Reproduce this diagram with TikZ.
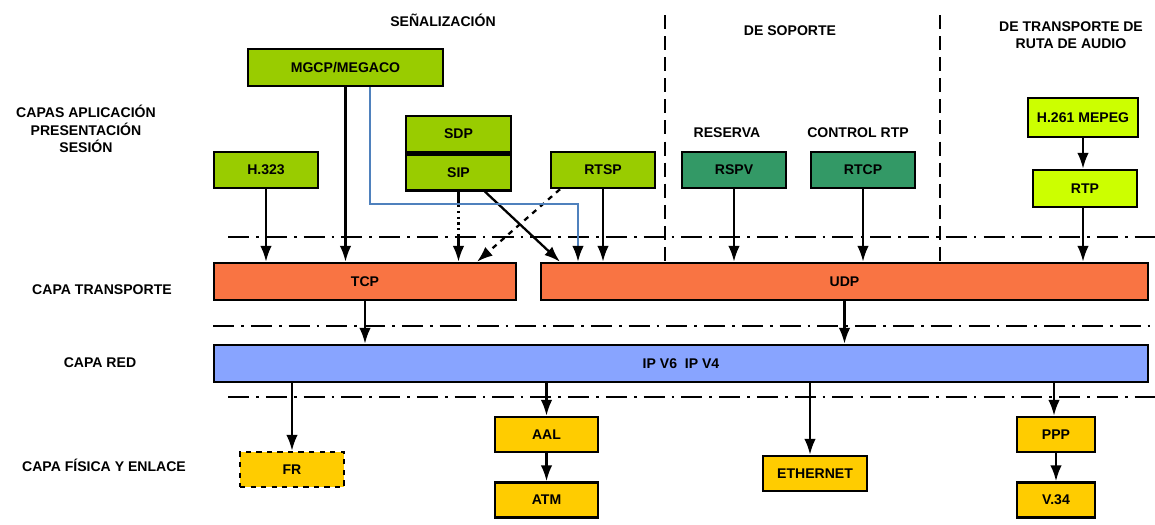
\documentclass[tikz,border=0pt]{standalone}
\usepackage{fontspec}
\setmainfont{Liberation Sans}
\usepackage{tikz}
\usetikzlibrary{arrows.meta}
\usetikzlibrary{positioning}

\definecolor{verdesen}{HTML}{99CC00}
\definecolor{verdesop}{HTML}{339966}
\definecolor{verdeaud}{HTML}{CCFF00}
\definecolor{naranja}{HTML}{F97443}
\definecolor{azulred}{HTML}{88A4FF}
\definecolor{amarillo}{HTML}{FFCC00}
\definecolor{azullinea}{HTML}{4F81BD}

\begin{document}
\begin{tikzpicture}[x=0.02cm, y=-0.02cm, >={Latex[length=9pt,width=6.5pt]},
    font=\fontsize{8}{10}\selectfont\bfseries,
    box/.style={draw, line width=1.4pt, inner sep=0pt, minimum width=2.08cm, minimum height=0.72cm},
    sen/.style={box, fill=verdesen},
    sop/.style={box, fill=verdesop},
    aud/.style={box, fill=verdeaud},
    trans/.style={box, fill=naranja, minimum height=0.74cm},
    ipbox/.style={box, fill=azulred, minimum height=0.74cm},
    fis/.style={box, fill=amarillo, minimum height=0.7cm},
    flecha/.style={->, line width=1.3pt},
    corte/.style={line width=1.4pt, dash pattern=on 12pt off 4pt on 1.5pt off 4pt},
    zona/.style={line width=1.1pt, dash pattern=on 8pt off 4pt},
    capa/.style={align=center}]
  \useasboundingbox (0,0) rectangle (1155,524);

  % titulos de columnas y capas
  \node (t_sen) at (443,20)  {SEÑALIZACIÓN};
  \node (t_sop) at (790,31)  {DE SOPORTE};
  \node[capa] (t_aud) at (1071,35) {DE TRANSPORTE DE\\RUTA DE AUDIO};
  \node[capa] (c_app) at (86,129) {CAPAS APLICACIÓN\\PRESENTACIÓN\\SESIÓN};
  \node (c_tra) at (102,290) {CAPA TRANSPORTE};
  \node (c_red) at (100,363) {CAPA RED};
  \node (c_fis) at (104,465) {CAPA FÍSICA Y ENLACE};
  \node (l_res) at (727,133) {RESERVA};
  \node (l_ctl) at (858,133) {CONTROL RTP};

  % separadores
  \draw[zona] (665,15) -- (665,265);
  \draw[zona] (940,15) -- (940,262);
  \draw[corte] (228,237) -- (1155,237);
  \draw[corte] (213,326) -- (1155,326);
  \draw[corte] (228,397) -- (1155,397);

  % aplicacion
  \node[sen, minimum width=3.9cm, minimum height=0.74cm] (mgcp) at (345.5,67.5) {MGCP/MEGACO};
  \node[sen, minimum width=2.1cm] (sdp) at (458.5,134) {SDP};
  \node[sen, minimum width=2.1cm] (sip) [below=0pt of sdp] {SIP};
  \node[sen] (h323) at (266,170) {H.323};
  \node[sen] (rtsp) at (603,170) {RTSP};
  \node[sop] (rspv) at (734,170) {RSPV};
  \node[sop] (rtcp) at (863,170) {RTCP};
  \node[aud, minimum width=2.2cm, minimum height=0.78cm] (h261) at (1083,117.5) {H.261 MEPEG};
  \node[aud, minimum height=0.74cm] (rtp) at (1085,188.5) {RTP};

  % transporte, red, fisica
  \node[trans, minimum width=6.04cm] (tcp) at (365,281.5) {TCP};
  \node[trans, minimum width=12.14cm] (udp) at (844.5,281.5) {UDP};
  \node[ipbox, minimum width=18.68cm] (ip) at (681,363.5) {IP V6 \ IP V4};
  \node[fis, dashed] (fr) at (292,469.5) {FR};
  \node[fis, minimum width=2.06cm] (aal) at (546.5,434.5) {AAL};
  \node[fis, minimum width=2.06cm] (atm) [below=0.56cm of aal] {ATM};
  \node[fis] (eth) at (815,473.5) {ETHERNET};
  \node[fis, minimum width=1.56cm] (ppp) at (1056,434.5) {PPP};
  \node[fis, minimum width=1.56cm] (v34) [below=0.56cm of ppp] {V.34};

  % flechas hacia transporte
  \draw[flecha] (h323.south) -- (h323.south |- tcp.north);
  \draw[flecha] (mgcp.south) -- (mgcp.south |- tcp.north);
  \coordinate (sip_a) at (458.5,205);
  \coordinate (sip_b) at (458.5,238);
  \draw[line width=1.3pt] (sip.south) -- (sip_a);
  \draw[line width=1.3pt, dotted] (sip_a) -- (sip_b);
  \draw[flecha] (sip_b) -- (sip_b |- tcp.north);
  \draw[flecha, dashed] (rtsp.south -| 560,0) -- (tcp.north -| 477,0);
  \draw[flecha] (sip.south -| 485,0) -- (udp.north -| 560,0);
  \draw[azullinea, line width=1.2pt, -{Latex[length=9pt,width=6.5pt,color=black]}]
    (mgcp.south -| 370,0) |- (578,204) -- (udp.north -| 578,0);
  \draw[flecha] (rtsp.south) -- (rtsp.south |- udp.north);
  \draw[flecha] (rspv.south) -- (rspv.south |- udp.north);
  \draw[flecha] (rtcp.south) -- (rtcp.south |- udp.north);
  \draw[flecha] (h261.south) -- (h261.south |- rtp.north);
  \draw[flecha] (rtp.south -| h261.south) -- (h261.south |- udp.north);

  % flechas hacia red
  \draw[flecha] (tcp.south) -- (tcp.south |- ip.north);
  \draw[flecha] (udp.south) -- (udp.south |- ip.north);

  % flechas hacia fisica
  \draw[flecha] (ip.south -| fr.north) -- (fr.north);
  \draw[flecha] (ip.south -| aal.north) -- (aal.north);
  \draw[flecha] (aal) -- (atm);
  \draw[flecha] (ip.south -| 810,0) -- (eth.north -| 810,0);
  \draw[flecha] (ip.south -| 1054,0) -- (ppp.north -| 1054,0);
  \draw[flecha] (ppp) -- (v34);
\end{tikzpicture}
\end{document}
